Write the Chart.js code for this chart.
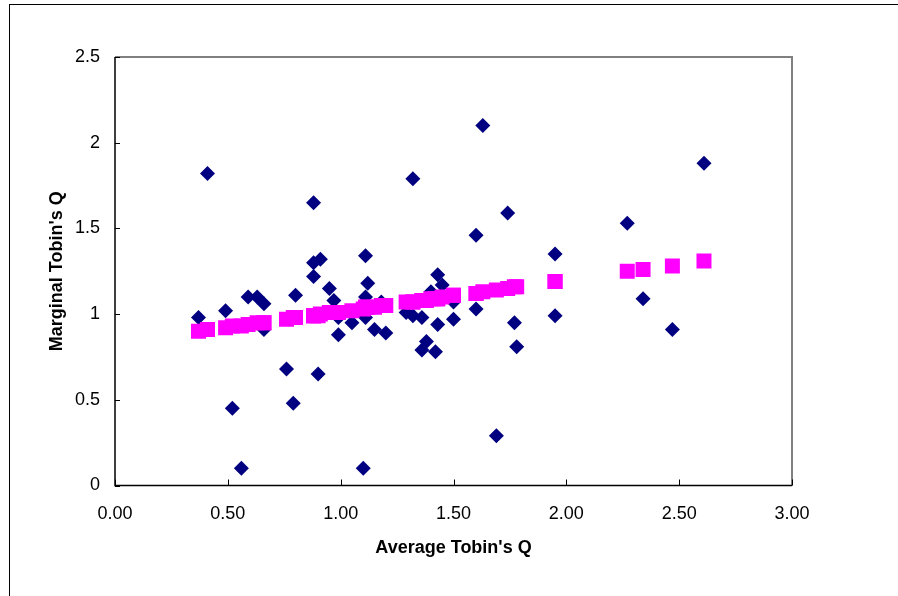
<!DOCTYPE html>
<html lang="en">
<head>
  <meta charset="UTF-8" />
  <title>Marginal vs Average Tobin's Q</title>
  <script src="https://cdn.jsdelivr.net/npm/chart.js"></script>
  <style>
    html, body { margin: 0; padding: 0; background: #fff; }
    #wrap { width: 898px; height: 596px; }
  </style>
</head>
<body>
  <div id="wrap"><canvas id="qChart" width="898" height="596"></canvas></div>
  <script>
    // observed points: average Q (x) and marginal Q (y)
    const avgQ = [
      0.37, 0.41, 0.49, 0.52, 0.56, 0.59, 0.63, 0.66, 0.66, 0.76,
      0.79, 0.80, 0.88, 0.88, 0.91, 0.88, 0.90, 0.95, 0.97, 0.99,
      0.99, 1.05, 1.11, 1.11, 1.12, 1.11, 1.15, 1.20, 1.10, 1.32,
      1.63, 1.74, 1.60, 1.95, 1.43, 1.45, 1.40, 1.50, 1.60, 1.95,
      1.77, 1.78, 1.50, 1.43, 1.36, 1.32, 1.38, 1.36, 1.42, 1.69,
      2.27, 2.34, 2.47, 2.61, 1.29, 1.18
    ];
    const marginalQ = [
      0.98, 1.82, 1.02, 0.45, 0.10, 1.10, 1.10, 1.06, 0.91, 0.68,
      0.48, 1.11, 1.65, 1.30, 1.32, 1.22, 0.65, 1.15, 1.08, 0.88,
      0.98, 0.95, 0.98, 1.34, 1.18, 1.10, 0.91, 0.89, 0.10, 1.79,
      2.10, 1.59, 1.46, 1.35, 1.23, 1.17, 1.13, 1.07, 1.03, 0.99,
      0.95, 0.81, 0.97, 0.94, 0.98, 0.99, 0.84, 0.79, 0.78, 0.29,
      1.53, 1.09, 0.91, 1.88, 1.01, 1.07
    ];
    // fitted values (pink squares), same x as above
    const fittedQ = [
      0.90, 0.91, 0.92, 0.93, 0.93, 0.94, 0.95, 0.95, 0.95, 0.97,
      0.98, 0.98, 0.99, 0.99, 1.00, 0.99, 0.99, 1.01, 1.01, 1.01,
      1.01, 1.02, 1.04, 1.04, 1.04, 1.04, 1.04, 1.05, 1.03, 1.07,
      1.13, 1.15, 1.12, 1.19, 1.09, 1.10, 1.09, 1.11, 1.12, 1.19,
      1.16, 1.16, 1.11, 1.09, 1.08, 1.07, 1.08, 1.08, 1.09, 1.14,
      1.25, 1.26, 1.28, 1.31, 1.07, 1.05
    ];
    const xTicks = [0, 0.5, 1, 1.5, 2, 2.5, 3];
    const yTicks = [0, 0.5, 1, 1.5, 2, 2.5];

    const font = 'Liberation Sans, Arial, sans-serif';
    Chart.defaults.color = '#000';
    Chart.defaults.font.family = font;

    const toPoints = (xs, ys) => xs.map((x, i) => ({ x: x, y: ys[i] }));

    // outer frame, axis lines and inward tick marks
    const framePlugin = {
      id: 'frame',
      beforeDatasetsDraw(chart) {
        const ctx = chart.ctx, a = chart.chartArea;
        const xs = chart.scales.x, ys = chart.scales.y;
        ctx.save();
        ctx.strokeStyle = '#000';
        ctx.lineWidth = 1;
        ctx.strokeRect(9.5, 4.5, 1200, 1200);

        ctx.strokeStyle = '#808080';
        ctx.lineWidth = 2;
        ctx.beginPath();
        ctx.moveTo(a.left, a.top); ctx.lineTo(a.right, a.top); ctx.lineTo(a.right, a.bottom);
        ctx.stroke();

        ctx.strokeStyle = '#000';
        ctx.lineWidth = 1.5;
        ctx.beginPath();
        ctx.moveTo(a.left, a.top); ctx.lineTo(a.left, a.bottom); ctx.lineTo(a.right, a.bottom);
        ctx.stroke();

        ctx.lineWidth = 1;
        ctx.beginPath();
        yTicks.forEach(v => {
          const y = Math.round(ys.getPixelForValue(v)) + 0.5;
          ctx.moveTo(a.left, y); ctx.lineTo(a.left + 5, y);
        });
        xTicks.forEach(v => {
          const x = Math.round(xs.getPixelForValue(v)) + 0.5;
          ctx.moveTo(x, a.bottom); ctx.lineTo(x, a.bottom - 6);
        });
        ctx.stroke();
        ctx.restore();
      }
    };

    new Chart(document.getElementById('qChart'), {
      type: 'scatter',
      data: {
        datasets: [
          {
            label: 'Fitted',
            data: toPoints(avgQ, fittedQ),
            pointStyle: 'rect',
            pointRadius: 10.6,
            pointHoverRadius: 10.6,
            backgroundColor: '#ff00ff',
            borderColor: '#ff00ff',
            borderWidth: 0
          },
          {
            label: 'Observed',
            data: toPoints(avgQ, marginalQ),
            pointStyle: 'rectRot',
            pointRadius: 7.5,
            pointHoverRadius: 7.5,
            backgroundColor: '#000080',
            borderColor: '#000080',
            borderWidth: 0
          }
        ]
      },
      options: {
        responsive: false,
        animation: false,
        layout: { padding: { left: 0, top: 57, right: 106, bottom: 0 } },
        scales: {
          x: {
            type: 'linear',
            min: 0, max: 3,
            afterFit: s => { s.height = 110.5; },
            afterBuildTicks: s => { s.ticks = xTicks.map(v => ({ value: v })); },
            grid: { display: false },
            border: { display: false },
            ticks: { padding: 10, font: { size: 18 }, callback: v => v.toFixed(2) },
            title: {
              display: true,
              text: "Average Tobin's Q",
              font: { size: 18, weight: 'bold' },
              padding: { top: 0, bottom: 37 }
            }
          },
          y: {
            type: 'linear',
            min: 0, max: 2.5,
            afterFit: s => { s.width = 115; },
            afterBuildTicks: s => { s.ticks = yTicks.map(v => ({ value: v })); },
            grid: { display: false },
            border: { display: false },
            ticks: { padding: 7, font: { size: 18 }, callback: v => String(v) },
            title: {
              display: true,
              text: "Marginal Tobin's Q",
              font: { size: 18, weight: 'bold' },
              padding: { top: 46, bottom: 0 }
            }
          }
        },
        plugins: {
          legend: { display: false },
          tooltip: { enabled: false }
        }
      },
      plugins: [framePlugin]
    });
  </script>
</body>
</html>
